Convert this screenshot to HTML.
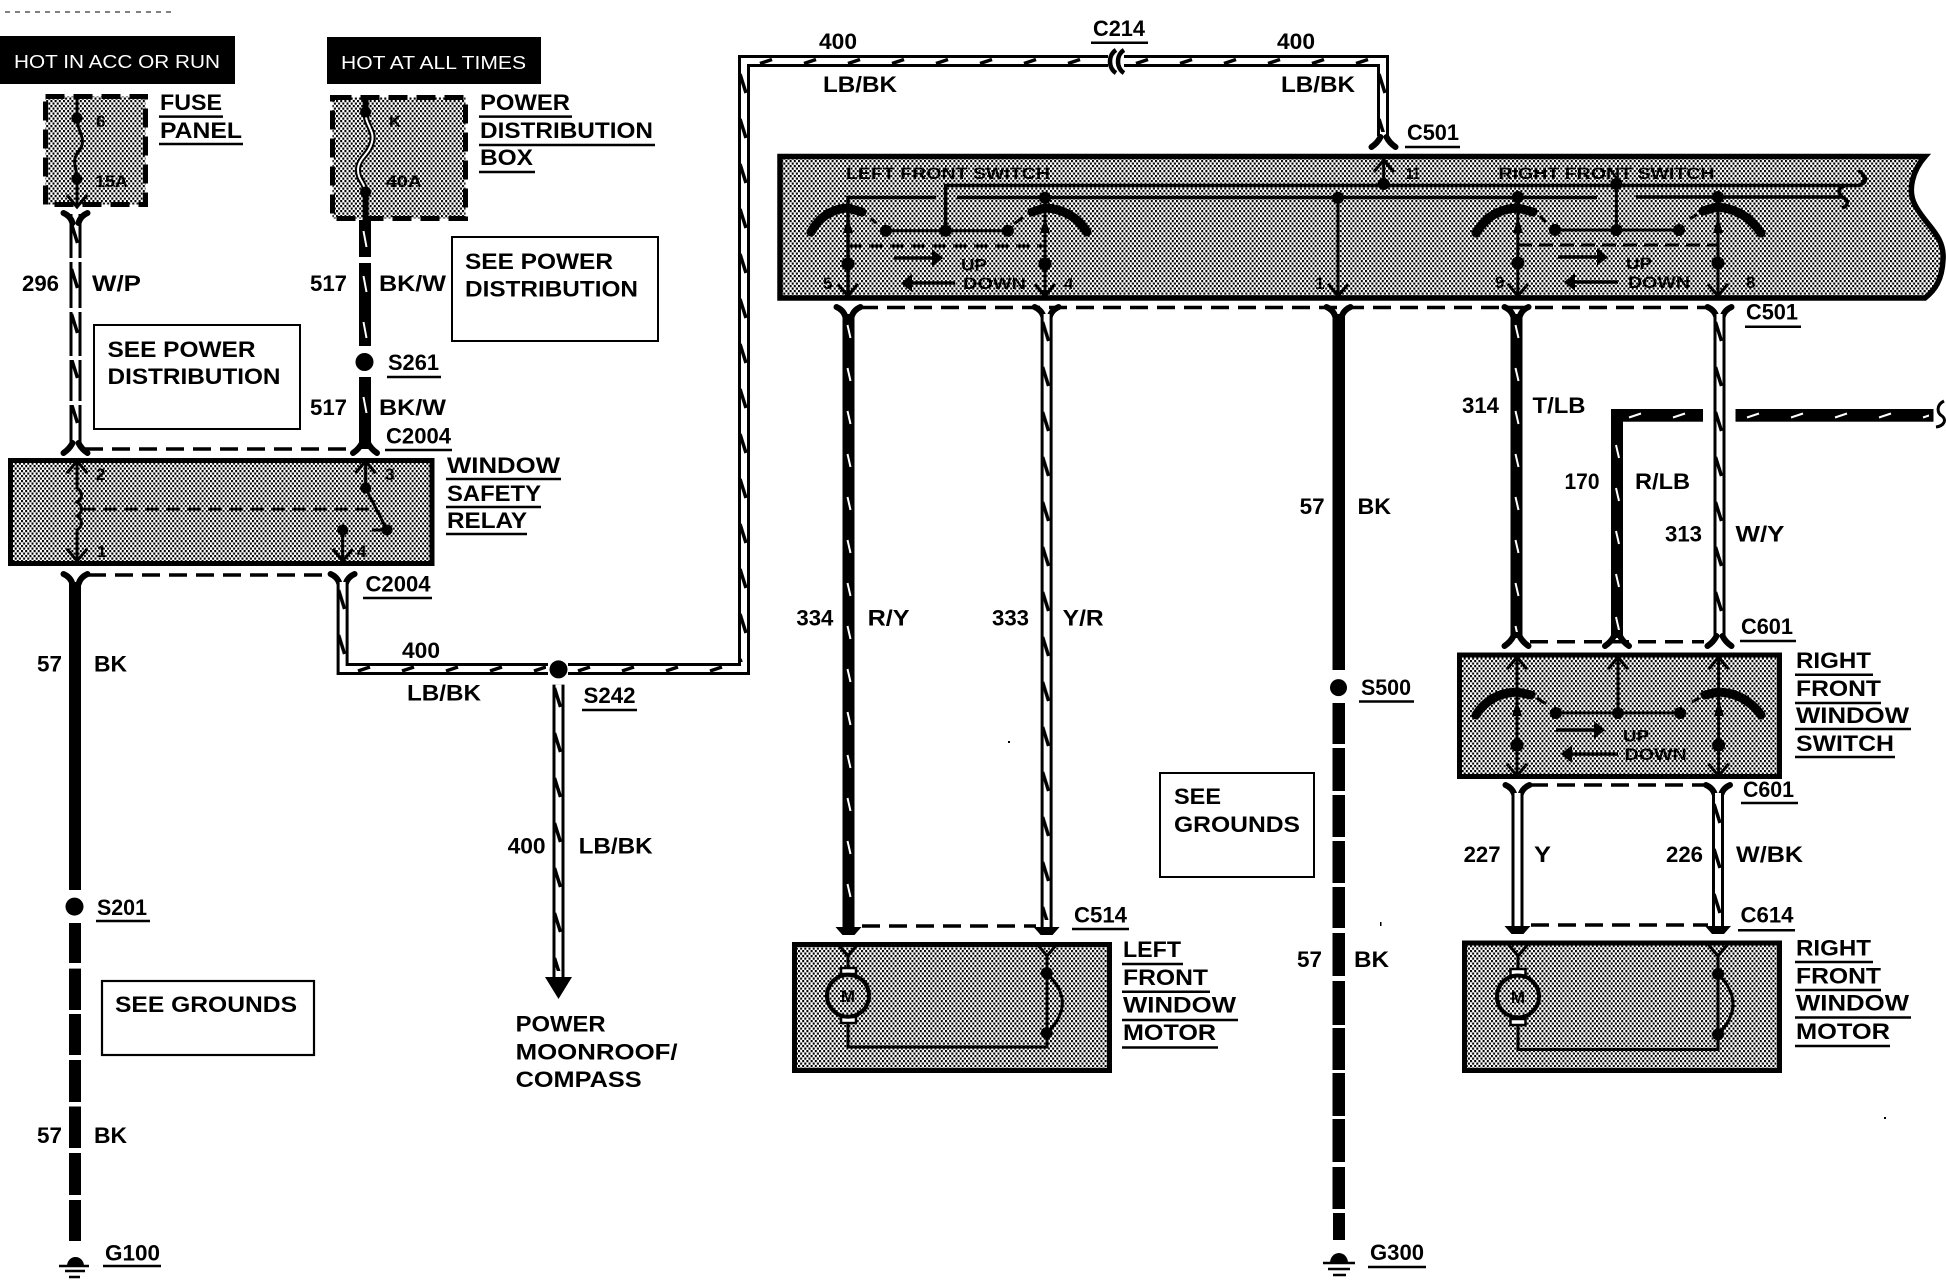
<!DOCTYPE html>
<html lang="en"><head><meta charset="utf-8"><title>Window wiring diagram</title>
<style>
html,body{margin:0;padding:0;background:#fff;width:1946px;height:1280px;overflow:hidden}
svg{display:block}
text{font-family:"Liberation Sans",sans-serif;font-weight:bold;font-size:22px;fill:#000}
.n{font-weight:bold;font-size:17px}
.h{font-weight:normal;font-size:18.5px;fill:#fff}
</style></head><body>
<svg xmlns="http://www.w3.org/2000/svg" width="1946" height="1280" viewBox="0 0 1946 1280">
<defs>
<pattern id="s" width="4.2" height="5" patternUnits="userSpaceOnUse"><rect width="4.2" height="5" fill="#fff"/><rect width="2" height="2.2" fill="#000"/><rect x="2.1" y="2.5" width="2" height="2.2" fill="#000"/></pattern>
<pattern id="zv" width="12" height="45" patternUnits="userSpaceOnUse"><path d="M2,2 L8,21" stroke="#000" stroke-width="3.5" fill="none"/></pattern>
<pattern id="zh" width="44" height="12" patternUnits="userSpaceOnUse"><path d="M8,8 L20,4" stroke="#000" stroke-width="3.5" fill="none"/></pattern>
<pattern id="bv" width="12" height="43" patternUnits="userSpaceOnUse"><path d="M5,5 L8,18" stroke="#fff" stroke-width="2" fill="none"/></pattern>
<pattern id="bh" width="44" height="12" patternUnits="userSpaceOnUse"><path d="M8,8 L20,4" stroke="#fff" stroke-width="2" fill="none"/></pattern>
<g id="fy"><path d="M-12,-2 Q-5,1 -3,8 M12,-2 Q5,1 3,8" stroke="#000" stroke-width="6" fill="none" stroke-linecap="round"/></g>
<g id="fa"><path d="M-12,4 Q-6,0 -3,-6 M12,4 Q6,0 3,-6" stroke="#000" stroke-width="6" fill="none" stroke-linecap="round"/></g>
<path id="fb" d="M-13,0 H13 L6,8 H-6 Z" fill="#000"/>
<path id="vd" d="M-10,-12 L0,0 L10,-12" stroke="#000" stroke-width="3" fill="none"/>
<path id="vu" d="M-10,12 L0,0 L10,12" stroke="#000" stroke-width="3" fill="none"/>
</defs>

<path d="M5,12 H130 M136,12 H172" stroke="#000" stroke-width="1" stroke-dasharray="5 5" fill="none"/>

<!-- header bars -->
<rect x="0" y="36" width="235" height="48" fill="#000"/>
<text class="h" x="14" y="68" textLength="206" lengthAdjust="spacingAndGlyphs">HOT IN ACC OR RUN</text>
<rect x="327" y="37" width="214" height="47" fill="#000"/>
<text class="h" x="341" y="69" textLength="185" lengthAdjust="spacingAndGlyphs">HOT AT ALL TIMES</text>

<!-- fuse panel -->
<rect x="45.5" y="96.5" width="100" height="108" fill="url(#s)" stroke="#000" stroke-width="5" stroke-dasharray="19 9"/>
<path d="M77,98 V118 C77,130 84,135 82,145 C80,152 73,155 75,165 C76,172 77,172 77,179 V205" stroke="#000" stroke-width="3" fill="none"/>
<circle cx="77" cy="118" r="5.5"/><circle cx="77" cy="179" r="5.5"/>
<use href="#vd" x="77" y="207"/>
<text class="n" x="96" y="127">6</text>
<text class="n" x="95" y="187" textLength="33" lengthAdjust="spacingAndGlyphs">15A</text>

<!-- power distribution box -->
<rect x="332.5" y="97.5" width="133" height="121" fill="url(#s)" stroke="#000" stroke-width="5" stroke-dasharray="19 9"/>
<path d="M365.6,98 V112 C365,125 375,130 372,142 C369,155 358,158 358,170 C358,180 365,183 365.6,192 V220" stroke="#000" stroke-width="6" fill="none"/>
<path d="M365.6,112 C365,125 375,130 372,142 C369,155 358,158 358,170 C358,180 365,183 365.6,192" stroke="#fff" stroke-width="2" fill="none"/>
<circle cx="365.6" cy="112" r="5.5"/><circle cx="365.6" cy="192" r="5.5"/>
<text class="n" x="389" y="127">K</text>
<text class="n" x="386" y="187" textLength="36" lengthAdjust="spacingAndGlyphs">40A</text>

<!-- wire 296 -->
<path d="M75.5,214 V449" stroke="#000" stroke-width="12" fill="none"/>
<path d="M75.5,214 V449" stroke="#fff" stroke-width="6" fill="none"/>
<rect transform="translate(69.5,222)" width="12" height="225" fill="url(#zv)"/>
<rect x="68" y="258" width="15" height="4" fill="#fff"/><rect x="68" y="308" width="15" height="4" fill="#fff"/><rect x="68" y="356" width="15" height="4" fill="#fff"/><rect x="68" y="401" width="15" height="4" fill="#fff"/>
<use href="#fy" x="75.5" y="215"/>

<!-- wire 517 -->
<rect x="359" y="220" width="12" height="37" /><rect x="359" y="263" width="12" height="83"/><rect x="359" y="377" width="12" height="72"/>
<path d="M363.5,231 L366.5,247 M363.5,276 L366.5,292 M363.5,322 L366.5,338 M363.5,397 L366.5,413" stroke="#fff" stroke-width="2"/>
<circle cx="364.5" cy="362" r="9"/>

<!-- see power boxes -->
<rect x="94" y="325" width="206" height="104" fill="#fff" stroke="#000" stroke-width="2"/>
<text x="107.5" y="357" textLength="148" lengthAdjust="spacingAndGlyphs">SEE POWER</text>
<text x="107.5" y="384" textLength="173" lengthAdjust="spacingAndGlyphs">DISTRIBUTION</text>
<rect x="452" y="237" width="206" height="104" fill="#fff" stroke="#000" stroke-width="2"/>
<text x="465" y="269" textLength="148" lengthAdjust="spacingAndGlyphs">SEE POWER</text>
<text x="465" y="296.5" textLength="173" lengthAdjust="spacingAndGlyphs">DISTRIBUTION</text>

<text x="160" y="110" textLength="62" lengthAdjust="spacingAndGlyphs">FUSE</text>
<text x="160" y="138" textLength="82" lengthAdjust="spacingAndGlyphs">PANEL</text>
<text x="480" y="110" textLength="90" lengthAdjust="spacingAndGlyphs">POWER</text>
<text x="480" y="138" textLength="173" lengthAdjust="spacingAndGlyphs">DISTRIBUTION</text>
<text x="480" y="165" textLength="53" lengthAdjust="spacingAndGlyphs">BOX</text>
<text x="22" y="291" textLength="37" lengthAdjust="spacingAndGlyphs">296</text>
<text x="92" y="291" textLength="49" lengthAdjust="spacingAndGlyphs">W/P</text>
<text x="310" y="291" textLength="37" lengthAdjust="spacingAndGlyphs">517</text>
<text x="379" y="291" textLength="67" lengthAdjust="spacingAndGlyphs">BK/W</text>
<text x="310" y="415" textLength="37" lengthAdjust="spacingAndGlyphs">517</text>
<text x="379" y="415" textLength="67" lengthAdjust="spacingAndGlyphs">BK/W</text>
<text x="388" y="370" textLength="51" lengthAdjust="spacingAndGlyphs">S261</text>
<text x="386" y="443.5" textLength="65" lengthAdjust="spacingAndGlyphs">C2004</text>

<!-- connector C2004 upper -->
<path d="M85,449 H355" stroke="#000" stroke-width="3.5" stroke-dasharray="18 9" fill="none"/>
<use href="#fa" x="75.5" y="449"/><use href="#fa" x="365" y="449"/>

<!-- relay -->
<rect x="10.5" y="460.5" width="421.5" height="103" fill="url(#s)" stroke="#000" stroke-width="5"/>
<path d="M77,462 V488 C83,492 83,498 77,502 C83,506 83,512 77,516 C83,520 83,526 77,530 V559 M365.6,462 V488 L387,530 M372,530 H387 M342.6,530 V559" stroke="#000" stroke-width="3" fill="none"/>
<path d="M82,509 H373" stroke="#000" stroke-width="3" stroke-dasharray="14 7" fill="none"/>
<circle cx="365.6" cy="488" r="5.5"/><circle cx="387" cy="530" r="5.5"/><circle cx="342.6" cy="530" r="5.5"/>
<use href="#vu" x="77" y="461"/><use href="#vu" x="365.6" y="461"/><use href="#vd" x="77" y="561"/><use href="#vd" x="342.6" y="561"/>
<text class="n" x="96" y="480">2</text><text class="n" x="385" y="480">3</text><text class="n" x="97" y="557">1</text><text class="n" x="357" y="557">4</text>
<text x="447" y="473" textLength="113" lengthAdjust="spacingAndGlyphs">WINDOW</text>
<text x="447" y="501" textLength="94" lengthAdjust="spacingAndGlyphs">SAFETY</text>
<text x="447" y="528" textLength="80" lengthAdjust="spacingAndGlyphs">RELAY</text>

<!-- connector C2004 lower -->
<path d="M88,575 H332" stroke="#000" stroke-width="3.5" stroke-dasharray="18 9" fill="none"/>
<use href="#fy" x="75.5" y="576"/><use href="#fy" x="342.6" y="576"/>
<text x="365.5" y="591.7" textLength="65" lengthAdjust="spacingAndGlyphs">C2004</text>

<!-- wire 57 left -->
<rect x="69" y="582" width="12" height="308"/>
<circle cx="74.5" cy="906.6" r="9"/>
<rect x="69" y="923" width="12" height="40"/><rect x="69" y="968.6" width="12" height="41.4"/><rect x="69" y="1014" width="12" height="41"/><rect x="69" y="1060" width="12" height="42"/><rect x="69" y="1106.5" width="12" height="41.5"/><rect x="69" y="1153" width="12" height="42"/><rect x="69" y="1200" width="12" height="41"/>
<path d="M67,1266 A8.5,9 0 0 1 84,1266 Z"/>
<path d="M59,1266 H89 M65,1271 H85 M69,1277 H80" stroke="#000" stroke-width="2.5" fill="none"/>
<text x="37" y="671.5" font-size="21" textLength="25" lengthAdjust="spacingAndGlyphs">57</text>
<text x="94" y="671.5" textLength="33" lengthAdjust="spacingAndGlyphs">BK</text>
<text x="37" y="1143" textLength="25" lengthAdjust="spacingAndGlyphs">57</text>
<text x="94" y="1143" textLength="33" lengthAdjust="spacingAndGlyphs">BK</text>
<text x="97" y="915" textLength="50" lengthAdjust="spacingAndGlyphs">S201</text>
<text x="105" y="1260.5" textLength="55" lengthAdjust="spacingAndGlyphs">G100</text>
<rect x="102" y="981" width="212" height="74" fill="#fff" stroke="#000" stroke-width="2.2"/>
<text x="115" y="1012" textLength="182" lengthAdjust="spacingAndGlyphs">SEE GROUNDS</text>

<!-- wire 400 network -->
<path d="M342.6,582 V669 H548 M568,669 H744 V61 H1108 M1124,61 H1383 V136" stroke="#000" stroke-width="12" fill="none"/>
<path d="M342.6,582 V669 H548 M568,669 H744 V61 H1108 M1124,61 H1383 V136" stroke="#fff" stroke-width="6" fill="none"/>
<rect transform="translate(336.6,588)" width="12" height="70" fill="url(#zv)"/>
<rect transform="translate(350,663)" width="196" height="12" fill="url(#zh)"/>
<rect transform="translate(570,663)" width="164" height="12" fill="url(#zh)"/>
<rect transform="translate(738,72)" width="12" height="590" fill="url(#zv)"/>
<rect transform="translate(752,55.5)" width="352" height="12" fill="url(#zh)"/>
<rect transform="translate(1128,55.5)" width="250" height="12" fill="url(#zh)"/>
<rect transform="translate(1377,72)" width="12" height="60" fill="url(#zv)"/>
<path d="M1116,50 C1108,55 1108,68 1116,73 M1124,50 C1116,55 1116,68 1124,73" stroke="#000" stroke-width="4.5" fill="none"/>
<circle cx="558.5" cy="669.4" r="9"/>
<path d="M558.5,684.6 V978" stroke="#000" stroke-width="12" fill="none"/>
<path d="M558.5,684.6 V978" stroke="#fff" stroke-width="6" fill="none"/>
<rect transform="translate(552.5,686)" width="12" height="285" fill="url(#zv)"/>
<path d="M545,977 H572 L558.5,999 Z"/>
<text x="402" y="658" textLength="38" lengthAdjust="spacingAndGlyphs">400</text>
<text x="407" y="700.6" textLength="74" lengthAdjust="spacingAndGlyphs">LB/BK</text>
<text x="507.6" y="853.7" textLength="38" lengthAdjust="spacingAndGlyphs">400</text>
<text x="578.6" y="853.7" textLength="74" lengthAdjust="spacingAndGlyphs">LB/BK</text>
<text x="583.5" y="703" textLength="52" lengthAdjust="spacingAndGlyphs">S242</text>
<text x="515.6" y="1031.5" textLength="90" lengthAdjust="spacingAndGlyphs">POWER</text>
<text x="515.6" y="1059.7" textLength="162" lengthAdjust="spacingAndGlyphs">MOONROOF/</text>
<text x="515.6" y="1087" textLength="126" lengthAdjust="spacingAndGlyphs">COMPASS</text>
<text x="819" y="49" textLength="38" lengthAdjust="spacingAndGlyphs">400</text>
<text x="823" y="92" textLength="74" lengthAdjust="spacingAndGlyphs">LB/BK</text>
<text x="1277" y="49" textLength="38" lengthAdjust="spacingAndGlyphs">400</text>
<text x="1281" y="92" textLength="74" lengthAdjust="spacingAndGlyphs">LB/BK</text>
<text x="1093" y="36" textLength="52" lengthAdjust="spacingAndGlyphs">C214</text>
<use href="#fa" x="1383.5" y="143"/>
<text x="1407" y="140" textLength="52" lengthAdjust="spacingAndGlyphs">C501</text>

<!-- main switch box -->
<path d="M780,156.5 H1925 C1913,170 1907,190 1915,205 C1925,225 1945,235 1943,260 C1942,280 1935,290 1925,298 H780 Z" fill="url(#s)" stroke="#000" stroke-width="5.5"/>
<text class="n" x="846" y="179" textLength="204" lengthAdjust="spacingAndGlyphs">LEFT FRONT SWITCH</text>
<text class="n" x="1498.5" y="179" textLength="216" lengthAdjust="spacingAndGlyphs">RIGHT FRONT SWITCH</text>
<path d="M945.6,230 V185.5 H1858 C1866,184 1868,178 1862,174 M1858,185.5 C1868,184 1864,170 1858,172" stroke="#000" stroke-width="3.5" fill="none"/>
<path d="M936,197.5 H848 V295 M957,197.5 H1597 M1636,197 H1842 C1850,200 1848,206 1842,208 M1842,197 C1836,190 1840,187 1845,186" stroke="#000" stroke-width="3.5" fill="none"/>
<path d="M1045,197.5 V295 M1338,197.5 V295 M1383.7,159 V184 M1616.4,184 V230 M1517.8,197 V295 M1718,197 V295" stroke="#000" stroke-width="3" fill="none"/>
<path d="M886,230.7 H1008 M1555,230 H1679" stroke="#000" stroke-width="3" fill="none"/>
<g><circle cx="886" cy="230.7" r="6"/><circle cx="945.6" cy="230.7" r="6"/><circle cx="1008" cy="230.7" r="6"/><circle cx="1045" cy="197.7" r="6"/><circle cx="848" cy="264" r="6.5"/><circle cx="1045" cy="264" r="6.5"/><circle cx="1338" cy="197.7" r="6"/><circle cx="1383.7" cy="184" r="6"/><circle cx="1616.4" cy="184" r="6"/><circle cx="1517.8" cy="197" r="6"/><circle cx="1718" cy="197" r="6"/><circle cx="1555" cy="230" r="6"/><circle cx="1616.4" cy="230" r="6"/><circle cx="1679" cy="230" r="6"/><circle cx="1517.8" cy="263" r="6.5"/><circle cx="1718" cy="263" r="6.5"/></g>
<path d="M811,232 Q824,209 848,208 L862,212 M1087,232 Q1072,209 1045,208 L1032,212 M1476,233 Q1490,209 1518,208 L1533,212 M1761,233 Q1745,209 1717,207 L1703,211" stroke="#000" stroke-width="9" fill="none" stroke-linecap="round"/>
<path d="M871,218 L876,223 M1014,224 L1023,217 M1540,216 L1546,222 M1690,219 L1697,214" stroke="#000" stroke-width="3"/>
<path d="M843,233 L848,218 L853,233 Z M1040,233 L1045,218 L1050,233 Z M1513,233 L1518,218 L1523,233 Z M1713,233 L1718,218 L1723,233 Z"/>
<path d="M848,246 H1045 M1518,245 H1718" stroke="#000" stroke-width="3" stroke-dasharray="14 7" fill="none"/>
<path d="M894,258 H934 M955,283 H910 M1558,257 H1599 M1618,282 H1572" stroke="#000" stroke-width="3.5"/>
<path d="M932,249 L943,258 L932,267 Z M912,274 L901,283 L912,292 Z M1597,248 L1608,257 L1597,266 Z M1575,273 L1564,282 L1575,291 Z"/>
<text class="n" x="961" y="270.7" textLength="26" lengthAdjust="spacingAndGlyphs">UP</text>
<text class="n" x="963" y="289" textLength="63" lengthAdjust="spacingAndGlyphs">DOWN</text>
<text class="n" x="1626" y="269" textLength="26" lengthAdjust="spacingAndGlyphs">UP</text>
<text class="n" x="1628" y="288" textLength="62" lengthAdjust="spacingAndGlyphs">DOWN</text>
<text class="n" x="823" y="289">5</text><text class="n" x="1064" y="289">4</text><text class="n" x="1315" y="289">1</text><text class="n" x="1495" y="288">9</text><text class="n" x="1746" y="288">8</text><text class="n" x="1406" y="179" textLength="14" lengthAdjust="spacingAndGlyphs">11</text>
<use href="#vu" x="1383.7" y="160"/>
<use href="#vd" x="848" y="296"/><use href="#vd" x="1045" y="296"/><use href="#vd" x="1338" y="296"/><use href="#vd" x="1517.8" y="296"/><use href="#vd" x="1718" y="296"/>

<!-- C501 lower dashed -->
<path d="M860,307.5 H1706" stroke="#000" stroke-width="3.5" stroke-dasharray="18 9" fill="none"/>
<use href="#fy" x="848.5" y="309"/><use href="#fy" x="1046.6" y="309"/><use href="#fy" x="1338.5" y="309"/><use href="#fy" x="1516.5" y="309"/><use href="#fy" x="1719.5" y="309"/>
<text x="1746" y="319.5" textLength="52" lengthAdjust="spacingAndGlyphs">C501</text>

<!-- wires 334 / 333 -->
<rect x="842.5" y="314" width="12" height="613"/>
<rect transform="translate(842.5,320)" width="12" height="600" fill="url(#bv)"/>
<path d="M1046.6,314 V928" stroke="#000" stroke-width="12" fill="none"/>
<path d="M1046.6,314 V928" stroke="#fff" stroke-width="6" fill="none"/>
<rect transform="translate(1040.6,320)" width="12" height="600" fill="url(#zv)"/>
<path d="M862,926 H1036" stroke="#000" stroke-width="3.5" stroke-dasharray="18 9" fill="none"/>
<use href="#fb" x="848.5" y="927"/><use href="#fb" x="1046.6" y="927"/>
<text x="796.4" y="625.6" textLength="37" lengthAdjust="spacingAndGlyphs">334</text>
<text x="867.6" y="625.6" textLength="42" lengthAdjust="spacingAndGlyphs">R/Y</text>
<text x="992" y="625.6" textLength="37" lengthAdjust="spacingAndGlyphs">333</text>
<text x="1062.7" y="625.6" textLength="41" lengthAdjust="spacingAndGlyphs">Y/R</text>
<text x="1074" y="922.6" textLength="53" lengthAdjust="spacingAndGlyphs">C514</text>

<!-- left motor -->
<rect x="794.5" y="944.5" width="315" height="126" fill="url(#s)" stroke="#000" stroke-width="5"/>
<use href="#vd" x="848" y="956"/>
<path d="M848,956 V968 M848,1023 V1047 H1047 V956 M1046.7,973 Q1078,1003 1046.7,1033" stroke="#000" stroke-width="3" fill="none"/>
<use href="#vd" x="1047" y="956"/>
<rect x="841" y="968" width="15" height="6" fill="#fff" stroke="#000" stroke-width="2.5"/>
<rect x="841" y="1017" width="15" height="6" fill="#fff" stroke="#000" stroke-width="2.5"/>
<circle cx="848" cy="995.7" r="21" fill="none" stroke="#000" stroke-width="4"/>
<text class="n" x="848" y="1002" text-anchor="middle">M</text>
<circle cx="1046.7" cy="973" r="6"/><circle cx="1046.7" cy="1033" r="6"/>
<text x="1123" y="957" textLength="58" lengthAdjust="spacingAndGlyphs">LEFT</text>
<text x="1123" y="985" textLength="85" lengthAdjust="spacingAndGlyphs">FRONT</text>
<text x="1123" y="1012.5" textLength="113" lengthAdjust="spacingAndGlyphs">WINDOW</text>
<text x="1123" y="1040" textLength="93" lengthAdjust="spacingAndGlyphs">MOTOR</text>

<!-- wire 57 right -->
<rect x="1332.5" y="314" width="12.5" height="356"/>
<circle cx="1338.5" cy="687.6" r="8.5"/>
<g><rect x="1332.5" y="703" width="12.5" height="41"/><rect x="1332.5" y="748" width="12.5" height="43"/><rect x="1332.5" y="795" width="12.5" height="42"/><rect x="1332.5" y="841" width="12.5" height="42"/><rect x="1332.5" y="887" width="12.5" height="41"/><rect x="1332.5" y="933" width="12.5" height="43"/><rect x="1332.5" y="981" width="12.5" height="44"/><rect x="1332.5" y="1028" width="12.5" height="42"/><rect x="1332.5" y="1073" width="12.5" height="43"/><rect x="1332.5" y="1119" width="12.5" height="43"/><rect x="1332.5" y="1167" width="12.5" height="42"/><rect x="1333" y="1213" width="12" height="27"/></g>
<path d="M1330,1263 A9,10 0 0 1 1348,1263 Z"/>
<path d="M1323,1263 H1355 M1328,1269 H1350 M1333,1275 H1346" stroke="#000" stroke-width="2.5" fill="none"/>
<text x="1299.6" y="514" textLength="25" lengthAdjust="spacingAndGlyphs">57</text>
<text x="1357.5" y="514" textLength="33.5" lengthAdjust="spacingAndGlyphs">BK</text>
<text x="1361" y="695" textLength="50" lengthAdjust="spacingAndGlyphs">S500</text>
<text x="1297" y="967" textLength="25" lengthAdjust="spacingAndGlyphs">57</text>
<text x="1354" y="967" textLength="35" lengthAdjust="spacingAndGlyphs">BK</text>
<text x="1370" y="1260" textLength="54" lengthAdjust="spacingAndGlyphs">G300</text>
<rect x="1160" y="773" width="154" height="104" fill="#fff" stroke="#000" stroke-width="2"/>
<text x="1174" y="804" textLength="47" lengthAdjust="spacingAndGlyphs">SEE</text>
<text x="1174" y="832" textLength="126" lengthAdjust="spacingAndGlyphs">GROUNDS</text>

<!-- wires 314 / 170 / 313 -->
<rect x="1510.5" y="314" width="12" height="324"/>
<rect transform="translate(1510.5,320)" width="12" height="312" fill="url(#bv)"/>
<rect x="1611" y="409" width="12" height="229"/>
<rect x="1611" y="409" width="92" height="12.7"/>
<rect x="1735.5" y="409" width="198" height="12.7"/>
<rect transform="translate(1611,440)" width="12" height="190" fill="url(#bv)"/>
<rect transform="translate(1621,409.5)" width="82" height="12" fill="url(#bh)"/>
<rect transform="translate(1739,409.5)" width="190" height="12" fill="url(#bh)"/>
<path d="M1944,401 C1936,405 1937,413 1942,416 C1947,420 1944,426 1936,427" stroke="#000" stroke-width="3" fill="none"/>
<path d="M1719.5,314 V636" stroke="#000" stroke-width="12" fill="none"/>
<path d="M1719.5,314 V636" stroke="#fff" stroke-width="6" fill="none"/>
<rect transform="translate(1713.5,320)" width="12" height="310" fill="url(#zv)"/>
<path d="M1530,641.7 H1704" stroke="#000" stroke-width="3.5" stroke-dasharray="18 9" fill="none"/>
<use href="#fa" x="1516.5" y="642"/><use href="#fa" x="1617" y="642"/><use href="#fa" x="1719.5" y="642"/>
<text x="1462" y="413" textLength="37" lengthAdjust="spacingAndGlyphs">314</text>
<text x="1532.5" y="413" textLength="53" lengthAdjust="spacingAndGlyphs">T/LB</text>
<text x="1564.5" y="489" textLength="35" lengthAdjust="spacingAndGlyphs">170</text>
<text x="1635" y="489" textLength="55" lengthAdjust="spacingAndGlyphs">R/LB</text>
<text x="1665" y="541.7" textLength="37" lengthAdjust="spacingAndGlyphs">313</text>
<text x="1735.5" y="541.7" textLength="49" lengthAdjust="spacingAndGlyphs">W/Y</text>
<text x="1741" y="634" textLength="52" lengthAdjust="spacingAndGlyphs">C601</text>

<!-- right front window switch -->
<rect x="1459.5" y="655" width="320" height="121.5" fill="url(#s)" stroke="#000" stroke-width="5"/>
<path d="M1517,657 V775 M1618,657 V713 M1718.6,657 V775 M1556,713 H1680" stroke="#000" stroke-width="3" fill="none"/>
<use href="#vu" x="1517" y="657"/><use href="#vu" x="1618" y="657"/><use href="#vu" x="1718.6" y="657"/>
<use href="#vd" x="1517" y="776"/><use href="#vd" x="1718.6" y="776"/>
<path d="M1476,715 Q1490,693 1517,692 L1531,695 M1761,715 Q1745,693 1718,692 L1705,695" stroke="#000" stroke-width="9" fill="none" stroke-linecap="round"/>
<path d="M1537,698 L1546,704 M1692,702 L1699,698" stroke="#000" stroke-width="3"/>
<path d="M1512,716 L1517,701 L1522,716 Z M1714,716 L1719,701 L1724,716 Z"/>
<circle cx="1517" cy="745" r="6.5"/><circle cx="1718.6" cy="745" r="6.5"/><circle cx="1556" cy="713" r="6"/><circle cx="1618" cy="713" r="6"/><circle cx="1680" cy="713" r="6"/>
<path d="M1556,730 H1596 M1618,754 H1570" stroke="#000" stroke-width="3.5"/>
<path d="M1594,721 L1605,730 L1594,739 Z M1572,745 L1561,754 L1572,763 Z"/>
<text class="n" x="1623" y="741.5" textLength="26" lengthAdjust="spacingAndGlyphs">UP</text>
<text class="n" x="1624.7" y="760" textLength="62" lengthAdjust="spacingAndGlyphs">DOWN</text>
<text x="1796" y="668" textLength="75" lengthAdjust="spacingAndGlyphs">RIGHT</text>
<text x="1796" y="696" textLength="85" lengthAdjust="spacingAndGlyphs">FRONT</text>
<text x="1796" y="723" textLength="113" lengthAdjust="spacingAndGlyphs">WINDOW</text>
<text x="1796" y="751" textLength="98" lengthAdjust="spacingAndGlyphs">SWITCH</text>

<!-- wires 227 / 226 -->
<path d="M1530,785 H1706" stroke="#000" stroke-width="3.5" stroke-dasharray="18 9" fill="none"/>
<use href="#fy" x="1517.5" y="787"/><use href="#fy" x="1718" y="787"/>
<path d="M1517.5,793 V927 M1718,793 V927" stroke="#000" stroke-width="12" fill="none"/>
<path d="M1517.5,793 V927 M1718,793 V927" stroke="#fff" stroke-width="6" fill="none"/>
<rect transform="translate(1712,802)" width="12" height="122" fill="url(#zv)"/>
<path d="M1531,925 H1708" stroke="#000" stroke-width="3.5" stroke-dasharray="18 9" fill="none"/>
<use href="#fb" x="1517.5" y="926"/><use href="#fb" x="1718" y="926"/>
<text x="1463.6" y="862" textLength="37" lengthAdjust="spacingAndGlyphs">227</text>
<text x="1534" y="862" textLength="17" lengthAdjust="spacingAndGlyphs">Y</text>
<text x="1666" y="862" textLength="37" lengthAdjust="spacingAndGlyphs">226</text>
<text x="1736" y="862" textLength="67" lengthAdjust="spacingAndGlyphs">W/BK</text>
<text x="1743" y="797" textLength="51" lengthAdjust="spacingAndGlyphs">C601</text>
<text x="1740.5" y="922.5" textLength="53" lengthAdjust="spacingAndGlyphs">C614</text>

<!-- right motor -->
<rect x="1464.5" y="943" width="315" height="127.5" fill="url(#s)" stroke="#000" stroke-width="5"/>
<use href="#vd" x="1518" y="956"/><use href="#vd" x="1718" y="956"/>
<path d="M1518,956 V969 M1518,1025 V1049.5 H1718 V956 M1718,974 Q1748,1004 1718,1034.4" stroke="#000" stroke-width="3" fill="none"/>
<rect x="1510.5" y="969" width="15" height="6.5" fill="#fff" stroke="#000" stroke-width="2.5"/>
<rect x="1510.5" y="1019" width="15" height="6" fill="#fff" stroke="#000" stroke-width="2.5"/>
<circle cx="1518" cy="996.5" r="21" fill="none" stroke="#000" stroke-width="4"/>
<text class="n" x="1518" y="1003" text-anchor="middle">M</text>
<circle cx="1718" cy="974" r="6"/><circle cx="1718" cy="1034.4" r="6"/>
<text x="1796" y="955.5" textLength="75" lengthAdjust="spacingAndGlyphs">RIGHT</text>
<text x="1796" y="983.3" textLength="85" lengthAdjust="spacingAndGlyphs">FRONT</text>
<text x="1796" y="1010.5" textLength="113" lengthAdjust="spacingAndGlyphs">WINDOW</text>
<text x="1796" y="1039" textLength="94" lengthAdjust="spacingAndGlyphs">MOTOR</text>

<!-- label underlines -->
<path d="M159,116.6H223 M159,144H243 M479,116.6H572 M479,145H655 M479,172H535 M387,377H441 M385,450H452 M446,479H561 M446,507H541 M446,534H527 M363,598H432 M96,921H150 M103,1266H161 M582,710H637 M1091,42.7H1148 M1405,147H1460 M1745,326.7H1801 M1072,929H1129 M1122,964H1183 M1122,991.7H1210 M1122,1020H1238 M1122,1047.5H1218 M1359,701.5H1414 M1368,1267H1426 M1740,641H1796 M1795,674.7H1873 M1795,703H1881 M1795,729H1911 M1795,757H1895 M1741,803H1798 M1738,930.3H1795 M1795,962H1873 M1795,990H1881 M1795,1017.5H1911 M1795,1046H1890" stroke="#000" stroke-width="2.5" fill="none"/>

<!-- specks -->
<rect x="1008" y="741" width="2" height="2"/><rect x="1380" y="922" width="1.5" height="4"/><rect x="1884" y="1117" width="2" height="2"/>
</svg>
</body></html>
